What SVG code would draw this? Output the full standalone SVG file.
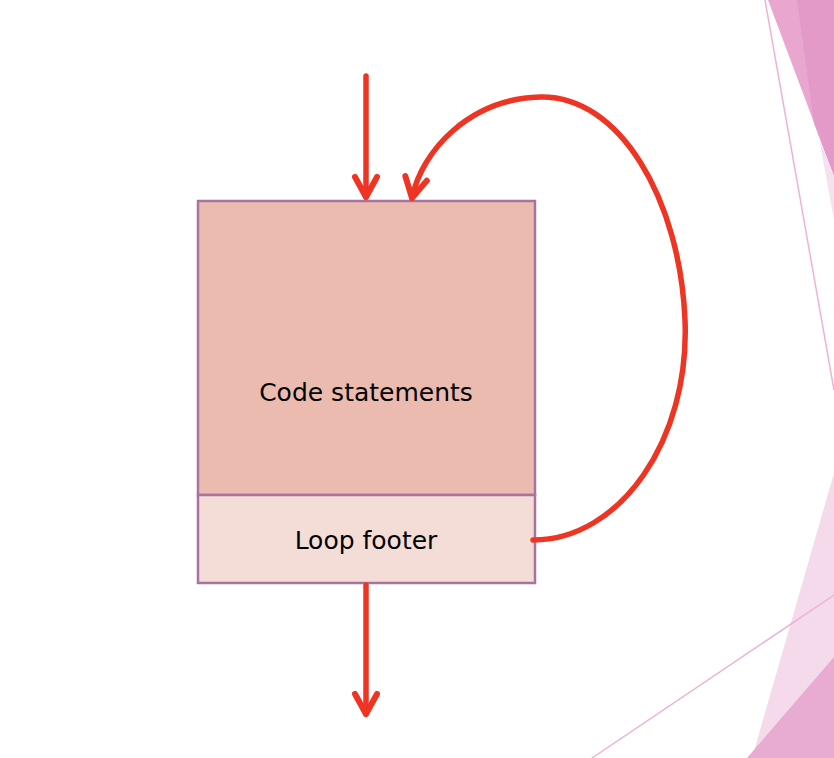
<svg xmlns="http://www.w3.org/2000/svg" width="834" height="758" viewBox="0 0 834 758">
<style>
.lbl{font-family:"DejaVu Sans","Liberation Sans",sans-serif;font-size:25px;fill:#000;text-anchor:middle;dominant-baseline:central}
.box{stroke:#A9739F;stroke-width:2.5}
.arr{fill:none;stroke:#EE3524;stroke-width:5.5;stroke-linecap:round;stroke-linejoin:round}
.deco{stroke:#EDB3D6;stroke-width:1.5;fill:none}
</style>
<defs>
<marker id="chev" markerUnits="userSpaceOnUse" orient="auto" refX="0" refY="0" markerWidth="30" markerHeight="30" overflow="visible">
<path d="M-20,-11 L0,0 L-20,11" fill="none" stroke="#EE3524" stroke-width="6" stroke-linecap="round" stroke-linejoin="round"/>
</marker>
</defs>
<rect width="834" height="758" fill="#fff"/>
<g id="decoration">
<polygon points="768,0 834,0 834,176" fill="#E9A7CF"/>
<polygon points="797,0 834,0 834,176 814,123" fill="#E39AC8"/>
<polygon points="819,138 834,176 834,220" fill="#F6E2EE"/>
<line class="deco" x1="765" y1="0" x2="834" y2="390"/>
<polygon points="834,473 834,758 752,758" fill="#F4DAEA"/>
<polygon points="834,657 834,758 747,758" fill="#E8ABD2"/>
<line class="deco" x1="592" y1="758" x2="834" y2="595"/>
</g>
<g id="code-statements">
<rect class="box" x="198" y="201" width="337" height="294" fill="#EBBBB0"/>
<text class="lbl" x="366" y="392">Code statements</text>
</g>
<g id="loop-footer">
<rect class="box" x="198" y="495" width="337" height="88" fill="#F5DDD7"/>
<text class="lbl" x="366" y="540">Loop footer</text>
</g>
<g id="connectors">
<path class="arr" d="M366,76 L366,197" marker-end="url(#chev)"/>
<path class="arr" d="M366,585 L366,714" marker-end="url(#chev)"/>
<path class="arr" d="M533,540 C620,540 690,440 685,320 C680,200 620,95 540,97 C470,99 422,150 412,198" marker-end="url(#chev)"/>
</g>
</svg>
